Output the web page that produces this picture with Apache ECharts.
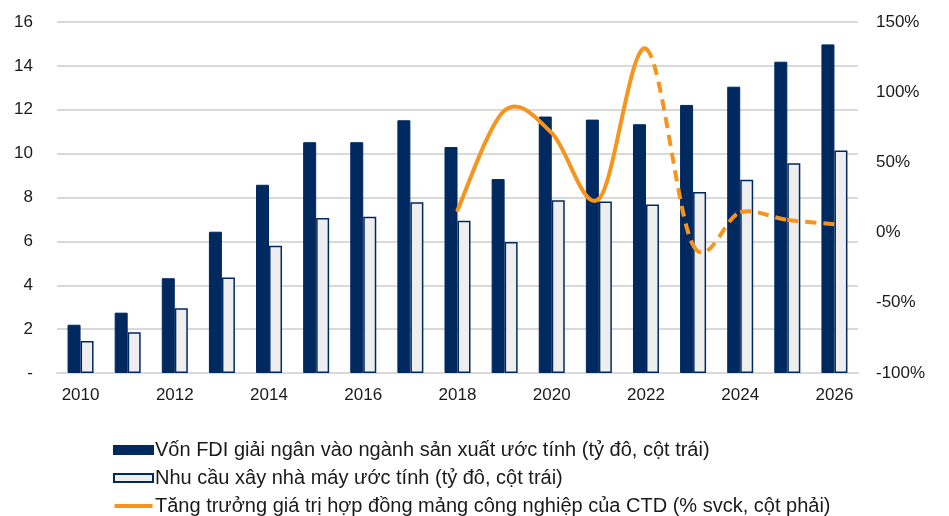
<!DOCTYPE html>
<html><head><meta charset="utf-8">
<script src="https://cdn.jsdelivr.net/npm/echarts@6/dist/echarts.min.js"></script>
<style>html,body{margin:0;padding:0;background:#fff}#c{width:949px;height:516px}</style>
</head><body><div id="c"></div>
<script>
const categories = ['2010','2011','2012','2013','2014','2015','2016','2017','2018','2019','2020','2021','2022','2023','2024','2025','2026'];
const fdiValues = [2.2, 2.75, 4.32, 6.44, 8.58, 10.52, 10.52, 11.52, 10.3, 8.84, 11.69, 11.55, 11.34, 12.22, 13.05, 14.19, 14.98];
const factoryValues = [1.46, 1.86, 2.95, 4.35, 5.8, 7.06, 7.12, 7.78, 6.94, 5.97, 7.88, 7.82, 7.68, 8.25, 8.81, 9.56, 10.14];
const growthValues = [null, null, null, null, null, null, null, null, 16, 87, 71, 24, 131, -9, 14.5, 9, 6];
const forecastFrom = '2022';
const leftTicks = {min: 0, max: 16, interval: 2};
const rightTicks = {min: -100, max: 150, interval: 50};
const names = ['Vốn FDI giải ngân vào ngành sản xuất ước tính (tỷ đô, cột trái)', 'Nhu cầu xây nhà máy ước tính (tỷ đô, cột trái)', 'Tăng trưởng giá trị hợp đồng mảng công nghiệp của CTD (% svck, cột phải)'];

const navy = '#002960', orange = '#F7941D';
const forecastIdx = categories.indexOf(forecastFrom);
const linePts = [];
growthValues.forEach((v, i) => { if (v !== null) linePts.push([i, v]); });

function renderGrowth(params, api) {
  const k = params.dataIndex;
  if (k >= linePts.length - 1) return null;
  const P = linePts.map(p => api.coord(p));
  const p0 = P[Math.max(k - 1, 0)], p1 = P[k], p2 = P[k + 1], p3 = P[Math.min(k + 2, P.length - 1)];
  const cp1 = [p1[0] + (p2[0] - p0[0]) / 6, p1[1] + (p2[1] - p0[1]) / 6];
  const cp2 = [p2[0] - (p3[0] - p1[0]) / 6, p2[1] - (p3[1] - p1[1]) / 6];
  const dashed = linePts[k][0] >= forecastIdx;
  return {
    type: 'bezierCurve',
    shape: {x1: p1[0], y1: p1[1], x2: p2[0], y2: p2[1], cpx1: cp1[0], cpy1: cp1[1], cpx2: cp2[0], cpy2: cp2[1]},
    style: {stroke: orange, lineWidth: 4, fill: null, lineCap: dashed ? 'butt' : 'round', lineDash: dashed ? [11, 7] : null}
  };
}

const chart = echarts.init(document.getElementById('c'), null, {renderer: 'canvas'});
chart.setOption({
  animation: false,
  textStyle: {fontFamily: 'Liberation Sans, Arial, sans-serif'},
  grid: {left: 57, right: 91, top: 22, bottom: 143},
  legend: {
    orient: 'vertical', left: 113, top: 440, padding: 0, itemGap: 8, itemWidth: 39, itemHeight: 8,
    textStyle: {fontSize: 20, lineHeight: 20, color: '#1a1a1a', padding: [0, 0, 0, -3]},
    data: [
      {name: names[0], icon: 'rect'},
      {name: names[1], icon: 'rect'},
      {name: names[2], icon: 'path://M0 0L0.01 0L0.01 0.01Z M0 2L38 2L38 6L0 6Z M0 8L0.01 8L0.01 7.99Z', itemStyle: {color: orange}}
    ]
  },
  xAxis: {
    type: 'category', data: categories,
    axisLine: {lineStyle: {color: '#d9d9d9', width: 2}},
    axisTick: {show: false},
    axisLabel: {interval: 1, fontSize: 17, color: '#1a1a1a', margin: 14}
  },
  yAxis: [
    {type: 'value', min: leftTicks.min, max: leftTicks.max, interval: leftTicks.interval,
     axisLine: {show: false}, axisTick: {show: false},
     splitLine: {lineStyle: {color: '#d9d9d9', width: 2}},
     axisLabel: {fontSize: 17, color: '#1a1a1a', margin: 24, formatter: v => v === 0 ? '-' : String(v)}},
    {type: 'value', min: rightTicks.min, max: rightTicks.max, interval: rightTicks.interval,
     axisLine: {show: false}, axisTick: {show: false}, splitLine: {show: false},
     axisLabel: {fontSize: 17, color: '#1a1a1a', margin: 18, formatter: v => v + '%'}}
  ],
  series: [
    {name: names[0], type: 'bar', data: fdiValues, barWidth: 13, barGap: '0%',
     itemStyle: {color: navy, borderColor: navy, borderWidth: 1}},
    {name: names[1], type: 'bar', data: factoryValues, barWidth: 13,
     itemStyle: {color: '#eeeeee', borderColor: navy, borderWidth: 1.5}},
    {name: names[2], type: 'custom', yAxisIndex: 1, data: linePts, encode: {x: 0, y: 1},
     renderItem: renderGrowth, itemStyle: {color: orange}, z: 5}
  ]
});
</script></body></html>
